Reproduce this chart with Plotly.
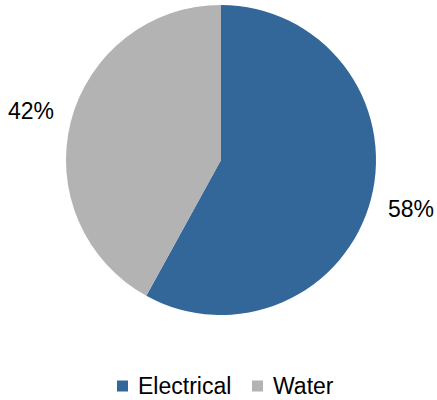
import math
import plotly.graph_objects as go

# Share of consumption by utility type
categories = ["Electrical", "Water"]
shares = [58, 42]
colors = ["#336699", "#B3B3B3"]

W, H = 437, 400
cx, cy, r = 221, 160, 155  # pie centre and radius in pixels
label_r = 196
FONT = "Liberation Sans, Arial, sans-serif"
FONT_SIZE = 23

fig = go.Figure(
    go.Pie(
        labels=categories,
        values=shares,
        marker=dict(colors=colors, line=dict(width=0)),
        sort=False,
        direction="clockwise",
        rotation=0,
        textinfo="none",
        textposition="none",
        hoverinfo="label+percent",
        showlegend=False,
        domain=dict(x=[(cx - r) / W, (cx + r) / W], y=[1 - (cy + r) / H, 1 - (cy - r) / H]),
    )
)

# Percentage labels placed outside each slice along its mid-angle
total = sum(shares)
acc = 0
annotations = []
for name, v in zip(categories, shares):
    mid = (acc + v / 2) / total * 2 * math.pi
    acc += v
    px = cx + label_r * math.sin(mid)
    py = cy - label_r * math.cos(mid)
    annotations.append(
        dict(
            x=px / W,
            y=1 - py / H,
            xref="paper",
            yref="paper",
            text=f"{round(v / total * 100)}%",
            showarrow=False,
            font=dict(family=FONT, size=FONT_SIZE, color="#000000"),
            xanchor="center",
            yanchor="middle",
        )
    )

# Horizontal legend along the bottom: square swatch followed by its label
legend_y = 386
swatch = 11
legend_x = [117, 252]  # left edge of each swatch
shapes = []
for name, col, lx in zip(categories, colors, legend_x):
    shapes.append(
        dict(
            type="rect",
            xref="paper",
            yref="paper",
            x0=lx / W,
            x1=(lx + swatch) / W,
            y0=1 - (legend_y + swatch / 2) / H,
            y1=1 - (legend_y - swatch / 2) / H,
            fillcolor=col,
            line=dict(width=0),
        )
    )
    annotations.append(
        dict(
            x=(lx + swatch + 8) / W,
            y=1 - legend_y / H,
            xref="paper",
            yref="paper",
            text=name,
            showarrow=False,
            font=dict(family=FONT, size=FONT_SIZE, color="#000000"),
            xanchor="left",
            yanchor="middle",
        )
    )

fig.update_layout(
    width=W,
    height=H,
    margin=dict(l=0, r=0, t=0, b=0, autoexpand=False),
    paper_bgcolor="white",
    plot_bgcolor="white",
    annotations=annotations,
    shapes=shapes,
    showlegend=False,
)

fig.write_html("out.html")
